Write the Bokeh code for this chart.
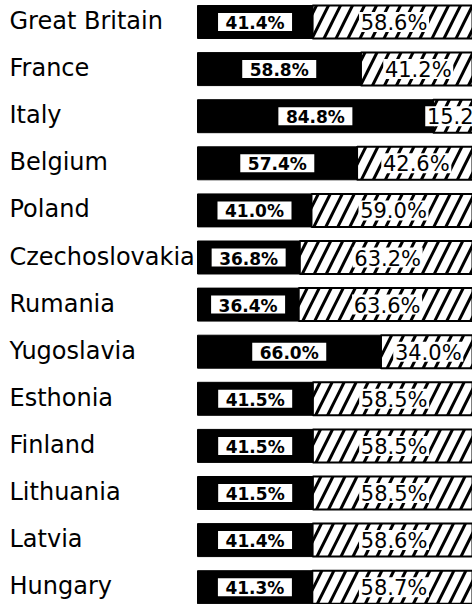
from bokeh.plotting import figure
from bokeh.models import Range1d, ColumnDataSource
from bokeh.core.properties import value
from bokeh.embed import file_html
from bokeh.resources import INLINE

countries = ["Great Britain", "France", "Italy", "Belgium", "Poland",
             "Czechoslovakia", "Rumania", "Yugoslavia", "Esthonia",
             "Finland", "Lithuania", "Latvia", "Hungary"]
black_share = [41.4, 58.8, 84.8, 57.4, 41.0, 36.8, 36.4, 66.0, 41.5, 41.5, 41.5, 41.4, 41.3]
hatched_share = [58.6, 41.2, 15.2, 42.6, 59.0, 63.2, 63.6, 34.0, 58.5, 58.5, 58.5, 58.6, 58.7]

# layout constants (pixels)
W, H = 472, 604
bar_x0 = 197.0          # px where 0 % sits
px_per = 2.78           # px per percent
row0 = 21.5             # px of first row centre
row_step = 47.1         # px between rows

x_start = -bar_x0 / px_per
x_end = (W - bar_x0) / px_per
y_top = -row0 / row_step
y_bot = (H - row0) / row_step

ys = list(range(len(countries)))
black_end = black_share
total_end = [b + h for b, h in zip(black_share, hatched_share)]

half_lab = 27 / px_per
black_lab_x = [b / 2 for b in black_share]
hatch_lab_x = [max((b + t) / 2, b + half_lab) for b, t in zip(black_end, total_end)]

src = ColumnDataSource(dict(
    y=ys, country=countries, black=black_end, total=total_end,
    blab=[f"{v:.1f}%" for v in black_share],
    hlab=[f"{v:.1f}%" for v in hatched_share],
    bx=black_lab_x, hx=hatch_lab_x,
    lx=[x_start] * len(ys),
))

p = figure(width=W, height=H, output_backend="svg", toolbar_location=None,
           x_range=Range1d(x_start, x_end), y_range=Range1d(y_bot, y_top),
           x_axis_location=None, y_axis_location=None, min_border=0)
p.grid.visible = False
p.outline_line_color = None
p.background_fill_color = "white"
p.border_fill_color = "white"

bh = 0.70
p.hbar(y="y", left=0, right="black", height=bh, source=src,
       fill_color="black", line_color="black", line_width=1)
p.hbar(y="y", left="black", right="total", height=bh, source=src,
       fill_color="white", line_color="black", line_width=2,
       hatch_pattern="/", hatch_color="black", hatch_weight=3, hatch_scale=24)

# labels inside black part
p.rect(x="bx", y="y", width=74, height=18, width_units="screen", height_units="screen",
       source=src, fill_color="white", line_color=None)
p.text(x="bx", y="y", text="blab", source=src, text_align="center",
       text_baseline="middle", text_font=value("DejaVu Sans"), text_font_style="bold",
       text_font_size="17px", text_color="black", y_offset=1)

# labels inside hatched part
p.rect(x="hx", y="y", width=70, height=20, width_units="screen", height_units="screen",
       source=src, fill_color="white", line_color=None)
p.text(x="hx", y="y", text="hlab", source=src, text_align="center",
       text_baseline="middle", text_font=value("DejaVu Sans"),
       text_font_size="21px", text_color="black", y_offset=1)

# country names
p.text(x="lx", y="y", text="country", source=src, text_align="left",
       text_baseline="middle", text_font=value("DejaVu Sans"),
       text_font_size="24px", text_color="black", x_offset=9, y_offset=-1)

open("out.html", "w").write(file_html(p, INLINE))
